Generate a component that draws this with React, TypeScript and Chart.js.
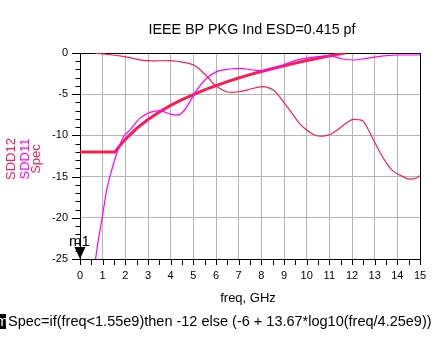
import React, { useEffect, useRef } from "react";
import { Chart, registerables } from "chart.js";

Chart.register(...registerables);

const chartTitle = "IEEE BP PKG Ind ESD=0.415 pf";
const xAxisTitle = "freq, GHz";
const formulaText = "Spec=if(freq<1.55e9)then -12 else (-6 + 13.67*log10(freq/4.25e9))";
const seriesNames = ["SDD12", "SDD11", "Spec"];
const seriesColors = ["#F81E55", "#FF00FF", "#F81E55"];
const markerLabel = "m1";
const markerFreq = 0;
const markerDb = -25;

const xMin = 0;
const xMax = 15;
const yMin = -25;
const yMax = 0;

const sdd12Freq = [0.66, 1.0, 1.32, 1.76, 2.2, 2.8, 3.2, 3.97, 4.4, 4.8, 5.0, 5.2, 5.44, 5.66, 5.88, 6.1, 6.47, 6.76, 7.1, 7.5, 7.94, 8.1, 8.3, 8.53, 8.75, 8.97, 9.4, 9.7, 10.0, 10.3, 10.6, 10.8, 11.03, 11.47, 11.8, 12.06, 12.3, 12.5, 12.7, 12.94, 13.2, 13.53, 13.8, 14.1, 14.56, 14.8, 15.0];
const sdd12Db = [-0.02, -0.1, -0.2, -0.36, -0.57, -0.9, -0.95, -0.93, -1.05, -1.25, -1.46, -1.8, -2.4, -3.0, -3.7, -4.2, -4.7, -4.77, -4.65, -4.4, -4.1, -4.08, -4.2, -4.5, -5.1, -5.9, -7.5, -8.6, -9.35, -9.9, -10.1, -10.05, -9.9, -9.1, -8.4, -8.05, -8.1, -8.3, -9.2, -10.5, -11.9, -13.4, -14.3, -14.8, -15.3, -15.2, -14.9];

const sdd11Freq = [0.66, 0.82, 0.96, 1.18, 1.4, 1.62, 1.91, 2.2, 2.65, 3.09, 3.53, 3.97, 4.26, 4.56, 4.85, 5.15, 5.59, 6.03, 6.62, 7.06, 7.65, 8.09, 8.5, 8.97, 9.3, 9.7, 10.3, 11.03, 11.6, 12.06, 12.65, 13.4, 14.1, 15.0];
const sdd11Db = [-25.5, -22.5, -20.3, -16.6, -14.2, -12.2, -10.2, -9.35, -7.9, -7.2, -7.0, -7.4, -7.55, -7.1, -5.9, -4.5, -3.07, -2.26, -1.94, -1.86, -2.06, -2.14, -1.9, -1.46, -1.1, -0.77, -0.5, -0.36, -0.73, -0.85, -0.65, -0.36, -0.24, -0.24];

const specFreq = [0, 1.55, 1.75, 2, 2.5, 3, 3.5, 4, 4.5, 5, 5.5, 6, 6.5, 7, 7.5, 8, 8.5, 9, 9.5, 10, 10.5, 11, 11.5, 11.7];
const specDb = [-12, -12, -11.27, -10.48, -9.15, -8.07, -7.15, -6.36, -5.66, -5.04, -4.47, -3.95, -3.48, -3.04, -2.63, -2.24, -1.89, -1.55, -1.23, -0.92, -0.63, -0.35, -0.09, 0];

const FONT = "'Liberation Sans', Arial, sans-serif";

function pts(xs: number[], ys: number[]) {
  return xs.map((x, i) => ({ x, y: ys[i] }));
}

const extrasPlugin = {
  id: "extras",
  beforeDatasetsDraw(chart: any) {
    const { ctx, chartArea: a, scales } = chart;
    const x = scales.x;
    const y = scales.y;
    ctx.save();
    ctx.strokeStyle = "#000";
    ctx.lineWidth = 1;
    ctx.beginPath();
    for (let v = yMin; v <= yMax; v += 1) {
      const py = Math.round(y.getPixelForValue(v)) + 0.5;
      const len = v % 5 === 0 ? 8 : 4.5;
      ctx.moveTo(a.left - len, py);
      ctx.lineTo(a.left, py);
    }
    for (let f = xMin; f <= xMax; f += 0.5) {
      const px = Math.round(x.getPixelForValue(f)) + 0.5;
      ctx.moveTo(px, a.bottom);
      ctx.lineTo(px, a.bottom + 6);
    }
    ctx.stroke();
    ctx.strokeRect(
      Math.round(a.left) + 0.5,
      Math.round(a.top) + 0.5,
      Math.round(a.right - a.left),
      Math.round(a.bottom - a.top)
    );
    ctx.restore();
  },
  afterDraw(chart: any) {
    const { ctx, scales } = chart;
    const x = scales.x;
    const y = scales.y;
    ctx.save();
    // title
    ctx.fillStyle = "#000";
    ctx.font = `14.3px ${FONT}`;
    ctx.textAlign = "center";
    ctx.textBaseline = "middle";
    ctx.fillText(chartTitle, 252, 30);
    // x axis title
    ctx.font = `13px ${FONT}`;
    ctx.fillText(xAxisTitle, 248, 298);
    // formula
    ctx.font = `14.5px ${FONT}`;
    ctx.textAlign = "left";
    ctx.fillText(formulaText, 8, 322);
    ctx.fillStyle = "#000";
    ctx.fillRect(0, 314, 6, 15);
    ctx.save();
    ctx.beginPath();
    ctx.rect(0, 314, 6, 15);
    ctx.clip();
    ctx.fillStyle = "#fff";
    ctx.fillText("m", -4, 322);
    ctx.restore();
    // rotated legend
    const legendX = [15, 29, 40];
    ctx.font = `13px ${FONT}`;
    ctx.textAlign = "center";
    ctx.textBaseline = "alphabetic";
    seriesNames.forEach((name, i) => {
      ctx.save();
      ctx.translate(legendX[i], 159);
      ctx.rotate(-Math.PI / 2);
      ctx.fillStyle = seriesColors[i];
      ctx.fillText(name, 0, 0);
      ctx.restore();
    });
    // marker
    const mx = x.getPixelForValue(markerFreq);
    const my = y.getPixelForValue(markerDb);
    ctx.fillStyle = "#000";
    ctx.beginPath();
    ctx.moveTo(mx - 5.5, my - 12);
    ctx.lineTo(mx + 5.5, my - 12);
    ctx.lineTo(mx, my);
    ctx.closePath();
    ctx.fill();
    ctx.font = `15px ${FONT}`;
    ctx.textAlign = "left";
    ctx.textBaseline = "alphabetic";
    ctx.fillText(markerLabel, mx - 11, my - 13);
    ctx.restore();
  },
};

export default function App() {
  const canvasRef = useRef<HTMLCanvasElement | null>(null);

  useEffect(() => {
    const canvas = canvasRef.current;
    if (!canvas) return;
    const chart = new Chart(canvas, {
      type: "line",
      data: {
        datasets: [
          {
            label: seriesNames[0],
            data: pts(sdd12Freq, sdd12Db),
            borderColor: seriesColors[0],
            borderWidth: 1.2,
            pointRadius: 0,
            cubicInterpolationMode: "monotone",
            fill: false,
          },
          {
            label: seriesNames[1],
            data: pts(sdd11Freq, sdd11Db),
            borderColor: seriesColors[1],
            borderWidth: 1.2,
            pointRadius: 0,
            cubicInterpolationMode: "monotone",
            fill: false,
          },
          {
            label: seriesNames[2],
            data: pts(specFreq, specDb),
            borderColor: seriesColors[2],
            borderWidth: 3,
            pointRadius: 0,
            tension: 0,
            fill: false,
          },
        ],
      },
      options: {
        animation: false,
        responsive: false,
        devicePixelRatio: 1,
        layout: { padding: { left: 0, right: 17, top: 53, bottom: 0 } },
        plugins: {
          legend: { display: false },
          title: { display: false },
          tooltip: { enabled: false },
        },
        scales: {
          x: {
            type: "linear",
            min: xMin,
            max: xMax,
            afterFit: (s: any) => {
              s.height = 78;
            },
            ticks: {
              stepSize: 1,
              color: "#000",
              font: { family: FONT, size: 11 },
              padding: 10,
              maxRotation: 0,
              autoSkip: false,
            },
            grid: { color: "#B4B4B4", lineWidth: 1, drawTicks: false },
            border: { display: false },
          },
          y: {
            type: "linear",
            min: yMin,
            max: yMax,
            afterFit: (s: any) => {
              s.width = 80;
            },
            ticks: {
              stepSize: 5,
              color: "#000",
              font: { family: FONT, size: 11 },
              padding: 12,
            },
            grid: { color: "#B4B4B4", lineWidth: 1, drawTicks: false },
            border: { display: false },
          },
        },
      },
      plugins: [extrasPlugin],
    });
    return () => chart.destroy();
  }, []);

  return (
    <div style={{ position: "fixed", left: 0, top: 0, width: 437, height: 337, background: "#fff" }}>
      <canvas ref={canvasRef} width={437} height={337} style={{ width: 437, height: 337, display: "block" }} />
    </div>
  );
}
